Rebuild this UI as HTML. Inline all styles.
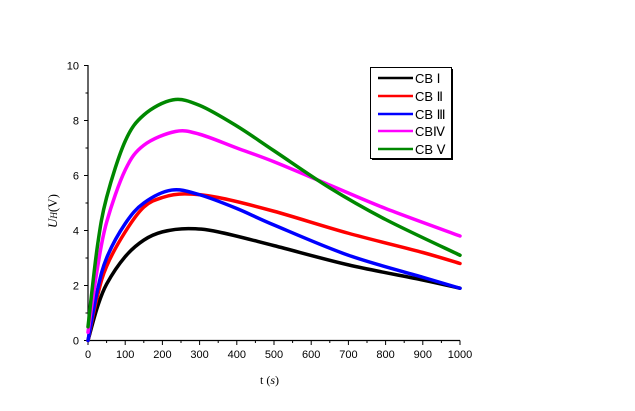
<!DOCTYPE html>
<html><head><meta charset="utf-8"><style>
html,body{margin:0;padding:0;background:#fff;}
svg{display:block;font-family:"Liberation Sans",sans-serif;}
</style></head><body>
<svg id="s" width="635" height="411" viewBox="0 0 635 411" xmlns="http://www.w3.org/2000/svg">
<g id="ax" stroke="#000" stroke-width="1.2" fill="none">
<line x1="88" y1="65" x2="88" y2="340.5"/>
<line x1="87.5" y1="340.5" x2="460" y2="340.5"/>
</g>
<g id="ticks" stroke="#000" stroke-width="1"></g>
<g id="labels" font-size="11" fill="#000"></g>
<g id="curves" fill="none" stroke-width="3.5" stroke-linejoin="round" stroke-linecap="round"></g>
<text x="260" y="384" font-size="12" font-family="Liberation Serif,serif">t (<tspan font-style="italic">s</tspan>)</text>
<text transform="translate(57,228) rotate(-90)" font-size="13" font-family="Liberation Serif,serif"><tspan font-style="italic">U</tspan><tspan font-size="9" font-style="italic">H</tspan>(V)</text>
<rect x="372" y="69" width="81" height="91" fill="#000"/>
<rect x="370.5" y="67.5" width="81" height="91" fill="#fff" stroke="#000" stroke-width="1"/>
<g font-size="13" fill="#000">
<line x1="378" y1="78" x2="413" y2="78" stroke="#000" stroke-width="2.5"/><text x="415" y="83">CB Ⅰ</text>
<line x1="378" y1="96" x2="413" y2="96" stroke="#f00" stroke-width="2.5"/><text x="415" y="101">CB Ⅱ</text>
<line x1="378" y1="114" x2="413" y2="114" stroke="#00f" stroke-width="2.5"/><text x="415" y="119">CB Ⅲ</text>
<line x1="378" y1="131" x2="413" y2="131" stroke="#f0f" stroke-width="2.5"/><text x="415" y="136">CBⅣ</text>
<line x1="378" y1="149" x2="413" y2="149" stroke="#080" stroke-width="2.5"/><text x="415" y="154">CB Ⅴ</text>
</g>
</svg>
<script>
var NS="http://www.w3.org/2000/svg";
function X(t){return 88+t*0.372;}function Y(u){return 340.5-u*27.5;}
var tk=document.getElementById('ticks'),lb=document.getElementById('labels');
function el(p,n,a){var e=document.createElementNS(NS,n);for(var k in a)e.setAttribute(k,a[k]);p.appendChild(e);return e;}
for(var t=0;t<=1000;t+=50){var x=X(t);el(tk,'line',{x1:x,y1:340.5,x2:x,y2:t%100?343:345});
if(t%100==0){var e=el(lb,'text',{x:x,y:358,'text-anchor':'middle'});e.textContent=t;}}
for(var u=0;u<=10;u++){var y=Y(u);el(tk,'line',{x1:88,y1:y,x2:u%2?85.5:84,y2:y});
if(u%2==0){var e=el(lb,'text',{x:79,y:y+4,'text-anchor':'end'});e.textContent=u;}}
var D=[
['#000',[[0,0],[25,1.2],[50,2.05],[100,3.05],[150,3.65],[200,3.95],[270,4.07],[350,3.95],[500,3.45],[700,2.75],[900,2.2],[1000,1.9]]],
['#f00',[[0,0],[25,1.6],[50,2.7],[100,3.95],[150,4.85],[200,5.2],[260,5.33],[350,5.2],[500,4.7],[700,3.9],[900,3.2],[1000,2.8]]],
['#00f',[[0,0],[25,1.8],[50,3.0],[100,4.25],[150,5.0],[225,5.47],[300,5.3],[400,4.8],[500,4.2],[700,3.1],[900,2.3],[1000,1.9]]],
['#f0f',[[0,0.3],[25,2.6],[50,4.3],[100,6.2],[150,7.1],[235,7.6],[300,7.5],[400,7.0],[500,6.5],[650,5.65],[800,4.8],[1000,3.8]]],
['#080',[[0,0.5],[25,3.4],[50,5.2],[100,7.25],[150,8.2],[228,8.75],[300,8.55],[400,7.8],[500,6.9],[650,5.55],[800,4.4],[1000,3.1]]]];
var cg=document.getElementById('curves');
D.forEach(function(s){var p=s[1].map(function(q){return [X(q[0]),Y(q[1])];});
var d='M'+p[0][0]+','+p[0][1];
for(var i=0;i<p.length-1;i++){var p0=p[i-1]||p[i],p1=p[i],p2=p[i+1],p3=p[i+2]||p2;
d+=' C'+(p1[0]+(p2[0]-p0[0])/6)+','+(p1[1]+(p2[1]-p0[1])/6)+' '+(p2[0]-(p3[0]-p1[0])/6)+','+(p2[1]-(p3[1]-p1[1])/6)+' '+p2[0]+','+p2[1];}
el(cg,'path',{d:d,stroke:s[0]});});
</script>
</body></html>
